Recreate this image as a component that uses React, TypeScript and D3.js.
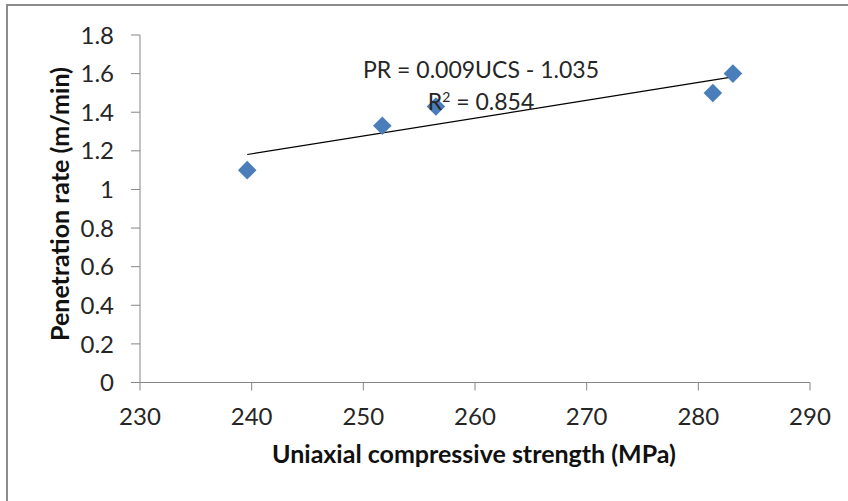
import React from "react";
import * as d3 from "d3";

// data
const ucs = [239.6, 251.7, 256.5, 281.3, 283.1];
const penetration = [1.1, 1.33, 1.43, 1.5, 1.6];
const xTicks = [230, 240, 250, 260, 270, 280, 290];
const yTicks = [0, 0.2, 0.4, 0.6, 0.8, 1, 1.2, 1.4, 1.6, 1.8];
const equationText = "PR = 0.009UCS - 1.035";
const rSquared = "0.854";

const width = 848;
const height = 501;
const font = "Lato, 'Open Sans', sans-serif";
const axisColor = "#868686";
const markerColor = "#4a7ebb";

export default function App() {
  const x = d3.scaleLinear().domain([230, 290]).range([140, 810]);
  const y = d3.scaleLinear().domain([0, 1.8]).range([382.5, 35]);

  // least squares line through the points
  const mx = d3.mean(ucs)!;
  const my = d3.mean(penetration)!;
  const sxy = d3.sum(ucs, (v, i) => (v - mx) * (penetration[i] - my));
  const sxx = d3.sum(ucs, (v) => (v - mx) * (v - mx));
  const slope = sxy / sxx;
  const icept = my - slope * mx;
  const [x0, x1] = d3.extent(ucs) as [number, number];
  const trend = d3.line<number>()
    .x((d) => x(d))
    .y((d) => y(slope * d + icept));

  const diamond = d3.symbol().type(d3.symbolDiamond2).size(220)();

  return (
    <svg
      width={width}
      height={height}
      style={{ position: "absolute", left: 0, top: 0, display: "block", background: "#fff" }}
      fontFamily={font}
    >
      {/* outer frame, only left/top edges fall inside the picture */}
      <rect x={7} y={5} width={860} height={520} fill="#fff" stroke="#8c8c8c" strokeWidth={2} />

      {/* y axis */}
      <line x1={x(230)} x2={x(230)} y1={y(1.8)} y2={y(0)} stroke={axisColor} />
      {yTicks.map((t) => (
        <g key={t}>
          <line x1={x(230) - 9} x2={x(230)} y1={y(t)} y2={y(t)} stroke={axisColor} />
          <text x={114} y={y(t)} dy="0.36em" textAnchor="end" fontSize={24} fill="#262626">
            {d3.format("~g")(t)}
          </text>
        </g>
      ))}

      {/* x axis */}
      <line x1={x(230)} x2={x(290)} y1={y(0)} y2={y(0)} stroke={axisColor} />
      {xTicks.map((t) => (
        <g key={t}>
          <line x1={x(t)} x2={x(t)} y1={y(0)} y2={y(0) + 8} stroke={axisColor} />
          <text x={x(t)} y={425} textAnchor="middle" fontSize={24} fill="#262626">
            {t}
          </text>
        </g>
      ))}

      {/* trendline */}
      <path d={trend([x0, x1])!} fill="none" stroke="#000" strokeWidth={1.2} />

      {/* points */}
      {ucs.map((v, i) => (
        <path
          key={i}
          d={diamond!}
          transform={`translate(${x(v)},${y(penetration[i])})`}
          fill={markerColor}
        />
      ))}

      {/* equation */}
      <text x={481} y={78} textAnchor="middle" fontSize={23} fill="#262626">
        {equationText}
      </text>
      <text x={481} y={110} textAnchor="middle" fontSize={23} fill="#262626">
        R<tspan dy={-8} fontSize={14}>2</tspan>
        <tspan dy={8}> = {rSquared}</tspan>
      </text>

      {/* axis titles */}
      <text x={474} y={463} textAnchor="middle" fontSize={25} fontWeight="bold" fill="#111">
        Uniaxial compressive strength (MPa)
      </text>
      <text
        transform={`translate(69,204) rotate(-90)`}
        textAnchor="middle"
        fontSize={25}
        fontWeight="bold"
        fill="#111"
      >
        Penetration rate (m/min)
      </text>
    </svg>
  );
}
